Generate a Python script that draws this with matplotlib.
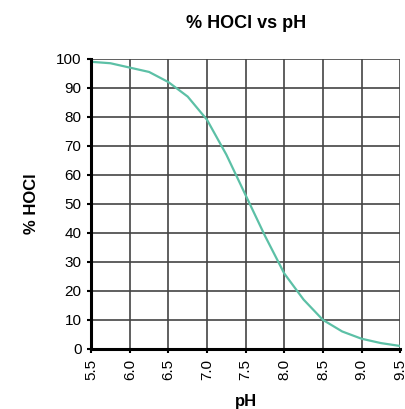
import matplotlib
matplotlib.use("Agg")
import matplotlib.pyplot as plt

ph = [5.5, 5.75, 6.0, 6.25, 6.5, 6.75, 7.0, 7.25, 7.5, 7.75, 8.0, 8.25, 8.5, 8.75, 9.0, 9.25, 9.5]
hocl = [99, 98.5, 97, 95.5, 92, 87, 79, 67, 53, 39, 26, 17, 10, 6, 3.5, 2, 1]

xticks = [5.5, 6.0, 6.5, 7.0, 7.5, 8.0, 8.5, 9.0, 9.5]
yticks = list(range(0, 101, 10))

plt.rcParams['font.family'] = ['Liberation Sans', 'DejaVu Sans']

fig = plt.figure(figsize=(4.05, 4.09), dpi=100)
ax = fig.add_axes([0.225, 0.147, 0.763, 0.709])

ax.plot(ph, hocl, color='#5cc0a6', lw=1.6, zorder=3)

ax.set_xlim(5.5, 9.5)
ax.set_ylim(0, 100)
ax.set_xticks(xticks)
ax.set_xticklabels([f"{t:.1f}" for t in xticks], rotation=90, fontsize=11)
ax.set_yticks(yticks)
ax.set_yticklabels([str(t) for t in yticks], fontsize=11)
ax.grid(True, color='#444444', lw=1.2)

for s in ['top', 'right']:
    ax.spines[s].set_visible(False)
for s in ['left', 'bottom']:
    ax.spines[s].set_linewidth(2.2)
    ax.spines[s].set_zorder(4)
ax.tick_params(length=3, width=1.5, direction='out', pad=4)

ax.set_title("% HOCl vs pH", fontsize=13, fontweight='bold', pad=22)
ax.set_xlabel("pH", fontsize=12, fontweight='bold', labelpad=10)
ax.set_ylabel("% HOCl", fontsize=12, fontweight='bold', labelpad=12)

fig.savefig("out.png", dpi=100)
